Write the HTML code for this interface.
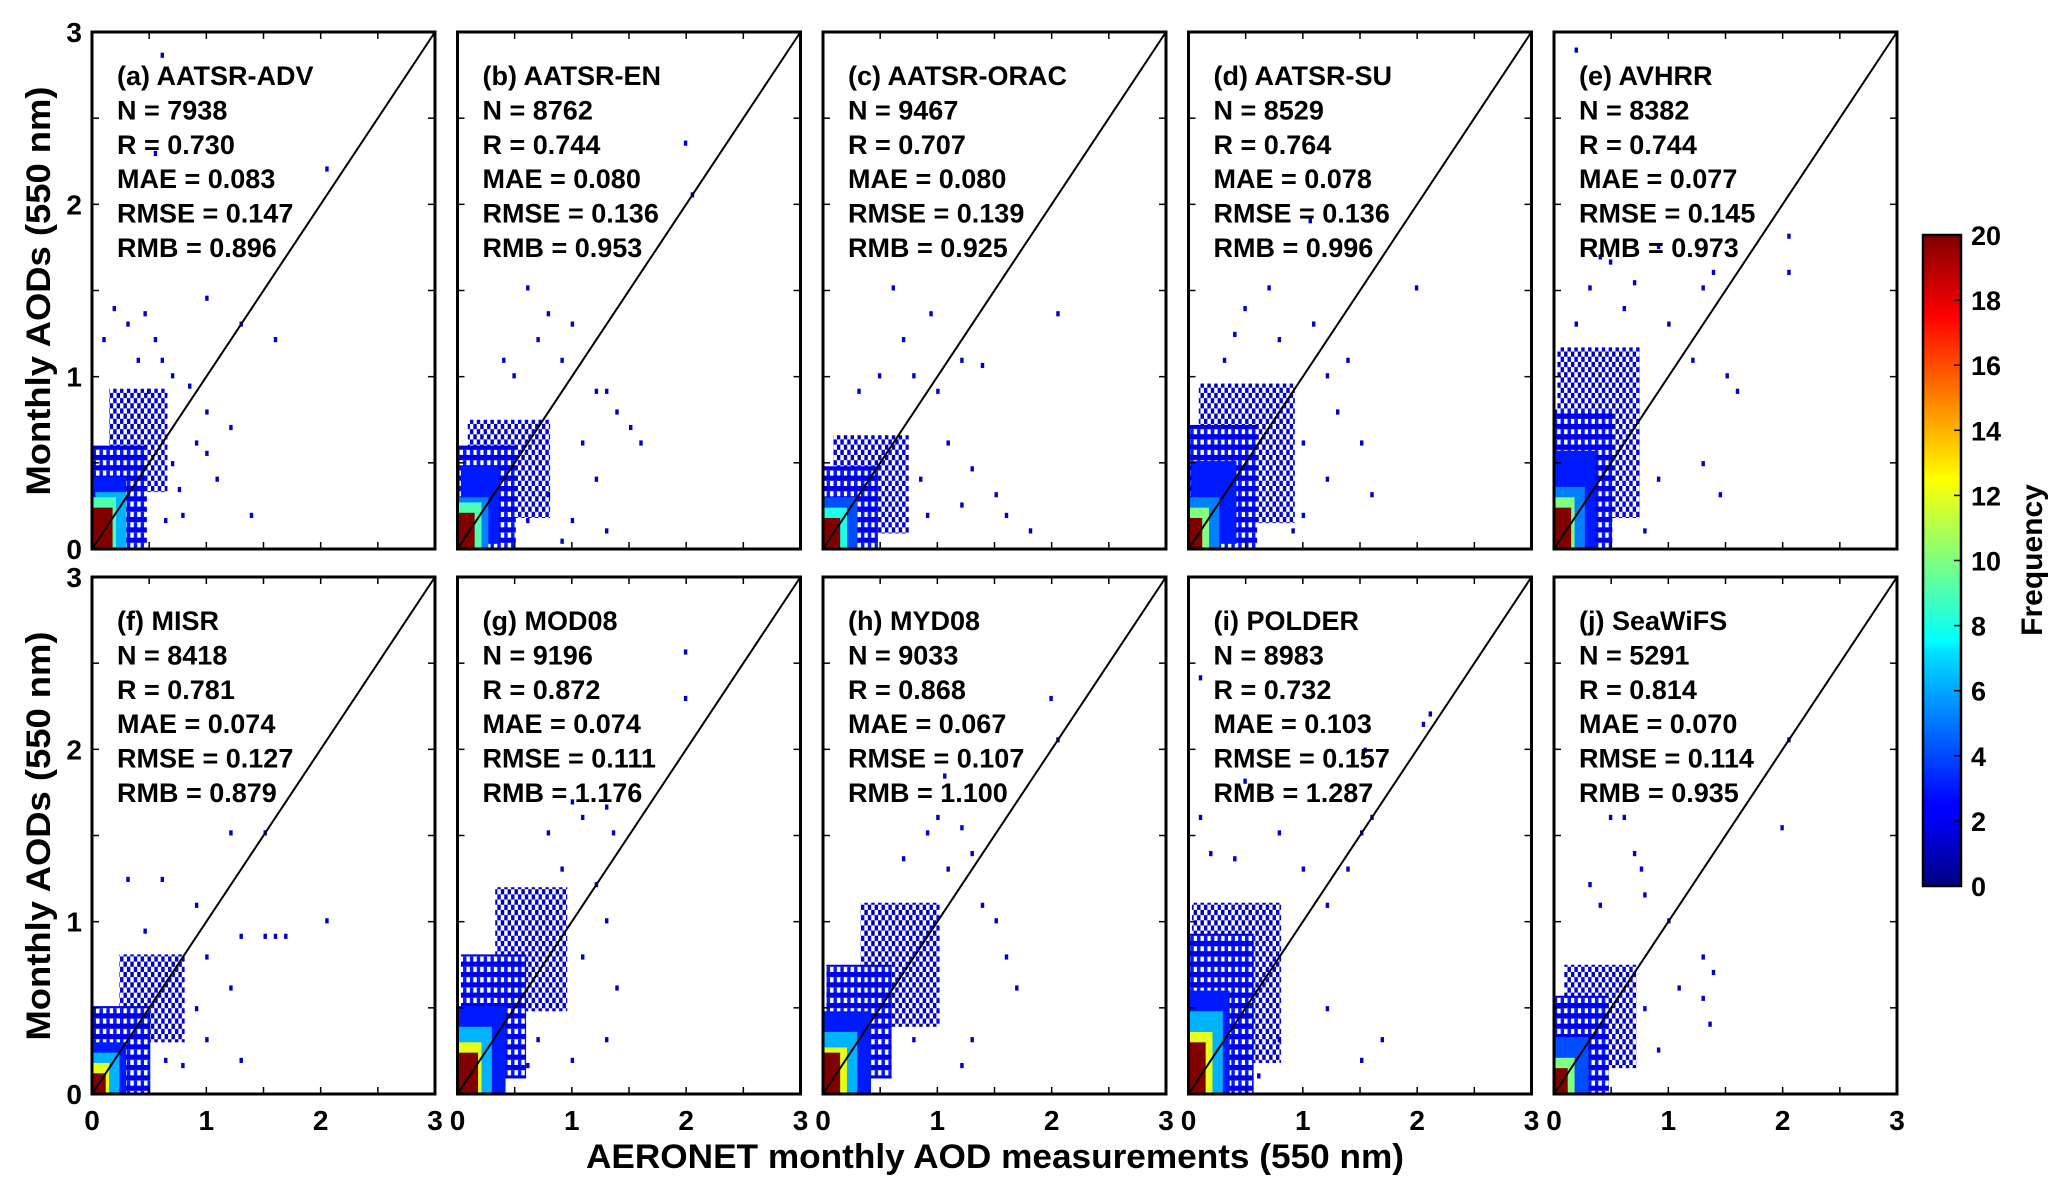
<!DOCTYPE html>
<html><head><meta charset="utf-8">
<style>
html,body{margin:0;padding:0;background:#fff;}
svg{display:block;font-family:"Liberation Sans",sans-serif;font-weight:bold;}
</style></head>
<body>
<svg id="chart" width="2067" height="1194" viewBox="0 0 2067 1194" xmlns="http://www.w3.org/2000/svg">
<defs>
<linearGradient id="jet" x1="0" y1="1" x2="0" y2="0">
<stop offset="0" stop-color="#00007f"/><stop offset="0.11" stop-color="#0000ff"/><stop offset="0.125" stop-color="#0000ff"/>
<stop offset="0.36" stop-color="#00e0ff"/><stop offset="0.375" stop-color="#00ffff"/>
<stop offset="0.5" stop-color="#7fff7f"/><stop offset="0.625" stop-color="#ffff00"/>
<stop offset="0.875" stop-color="#ff0000"/><stop offset="1" stop-color="#7f0000"/>
</linearGradient>
</defs>
<g id="panels"></g>
<g id="cbar"></g>
<text transform="translate(50,291) rotate(-90)" text-anchor="middle" font-size="34" textLength="409" lengthAdjust="spacingAndGlyphs">Monthly AODs (550 nm)</text>
<text transform="translate(50,836) rotate(-90)" text-anchor="middle" font-size="34" textLength="409" lengthAdjust="spacingAndGlyphs">Monthly AODs (550 nm)</text>
<text x="995" y="1168" text-anchor="middle" font-size="34" textLength="818" lengthAdjust="spacingAndGlyphs">AERONET monthly AOD measurements (550 nm)</text>
<text transform="translate(2042,560) rotate(-90)" text-anchor="middle" font-size="30">Frequency</text>
</svg>
<script>
const names = ["(a) AATSR-ADV","(b) AATSR-EN","(c) AATSR-ORAC","(d) AATSR-SU","(e) AVHRR","(f) MISR","(g) MOD08","(h) MYD08","(i) POLDER","(j) SeaWiFS"];
const statN = ["7938","8762","9467","8529","8382","8418","9196","9033","8983","5291"];
const statR = ["0.730","0.744","0.707","0.764","0.744","0.781","0.872","0.868","0.732","0.814"];
const statMAE = ["0.083","0.080","0.080","0.078","0.077","0.074","0.074","0.067","0.103","0.070"];
const statRMSE = ["0.147","0.136","0.139","0.136","0.145","0.127","0.111","0.107","0.157","0.114"];
const statRMB = ["0.896","0.953","0.925","0.996","0.973","0.879","1.176","1.100","1.287","0.935"];
const axisTicks = [0,1,2,3];
const cbarTicks = [0,2,4,6,8,10,12,14,16,18,20];

const boxesA=[[0.15,0.65,0.35,0.9,1],[0,0.45,0,0.6,2],[0,0.3,0,0.4,3],[0.03,0.27,0,0.32,6],[0,0.2,0,0.27,9],[0,0.17,0,0.23,20]];
const ptsA=[[0.1,1.2],[0.2,1.4],[0.3,1.3],[0.45,1.35],[0.55,1.2],[0.4,1.1],[0.6,1.1],[0.7,1.0],[0.5,0.9],[0.85,0.95],[1.0,0.8],[0.9,0.6],[1.2,0.7],[1.1,0.4],[1.4,0.2],[0.8,0.2],[0.75,0.35],[1.6,1.2],[0.55,2.3],[0.6,2.85],[1.0,1.45],[1.3,1.3],[2.05,2.2],[0.7,0.5],[0.65,0.15],[1.0,0.55]];
const boxesB=[[0.1,0.8,0.2,0.75,1],[0,0.5,0,0.6,2],[0.05,0.35,0.05,0.45,3],[0,0.25,0,0.3,5],[0,0.2,0,0.25,9],[0,0.14,0,0.2,20]];
const ptsB=[[1.2,0.9],[1.3,0.9],[1.1,0.6],[1.4,0.8],[0.7,1.2],[0.8,1.35],[0.5,1.0],[1.5,0.7],[1.6,0.6],[1.3,0.1],[1.0,0.15],[0.9,1.1],[1.0,1.3],[2.0,2.35],[2.05,2.05],[0.6,1.5],[1.2,0.4],[0.4,1.1],[0.8,0.3],[0.9,0.05],[0.6,0.15]];
const boxesC=[[0.1,0.75,0.1,0.65,1],[0,0.45,0,0.45,2],[0,0.3,0,0.3,4],[0,0.2,0,0.22,8],[0,0.15,0,0.18,20]];
const ptsC=[[0.6,1.5],[0.7,1.2],[0.5,1.0],[0.8,1.0],[1.0,0.9],[1.2,1.1],[1.1,0.6],[1.4,1.05],[1.3,0.45],[1.5,0.3],[1.6,0.2],[1.8,0.1],[2.05,1.35],[0.9,0.2],[1.2,0.25],[0.3,0.9],[0.95,1.35],[0.85,0.4]];
const boxesD=[[0.1,0.9,0.15,0.95,1],[0,0.6,0,0.7,2],[0.05,0.4,0.05,0.5,3],[0,0.25,0,0.3,5],[0,0.18,0,0.22,10],[0,0.12,0,0.16,20]];
const ptsD=[[0.5,1.4],[0.7,1.5],[0.8,1.2],[1.1,1.3],[1.2,1.0],[1.3,0.8],[1.4,1.1],[1.5,0.6],[1.2,0.4],[1.6,0.3],[2.0,1.5],[0.3,1.1],[1.0,0.2],[0.4,1.25],[1.05,1.9],[1.0,0.6],[0.9,0.1]];
const boxesE=[[0.05,0.75,0.2,1.15,1],[0,0.5,0,0.8,2],[0,0.35,0,0.55,3],[0,0.25,0,0.35,5],[0,0.18,0,0.28,10],[0,0.15,0,0.23,20]];
const ptsE=[[0.3,1.5],[0.4,1.7],[0.5,1.65],[0.6,1.4],[0.7,1.55],[1.0,1.3],[1.2,1.1],[1.3,1.5],[1.4,1.6],[1.5,1.0],[1.6,0.9],[1.45,0.3],[1.3,0.5],[2.05,1.8],[2.05,1.6],[0.9,1.75],[0.2,1.3],[0.2,2.9],[0.9,0.4],[0.8,0.1]];
const boxesF=[[0.25,0.8,0.3,0.8,1],[0,0.5,0,0.5,2],[0,0.3,0,0.3,3],[0,0.22,0,0.22,6],[0,0.15,0,0.16,12],[0,0.1,0,0.12,20]];
const ptsF=[[0.3,1.25],[0.6,1.25],[0.9,1.1],[1.2,1.5],[1.5,1.5],[1.0,0.8],[1.2,0.6],[1.3,0.9],[1.5,0.9],[1.6,0.9],[1.7,0.9],[2.05,1.0],[1.0,0.3],[1.3,0.2],[0.8,0.15],[0.45,0.95],[0.9,0.5],[0.65,0.2]];
const boxesG=[[0.35,0.95,0.5,1.2,1],[0.05,0.6,0.1,0.8,2],[0,0.4,0,0.5,3],[0,0.28,0,0.38,6],[0,0.2,0,0.28,12],[0,0.16,0,0.23,20]];
const ptsG=[[0.8,1.5],[1.0,1.7],[1.1,1.6],[1.3,1.65],[1.35,1.5],[0.9,1.3],[1.2,1.2],[1.3,1.0],[1.1,0.8],[1.4,0.6],[2.0,2.55],[2.0,2.3],[1.3,0.3],[1.0,0.2],[0.6,0.15],[0.7,0.3]];
const boxesH=[[0.35,1.0,0.4,1.1,1],[0.05,0.6,0.1,0.75,2],[0,0.4,0,0.45,3],[0,0.28,0,0.35,6],[0,0.2,0,0.26,12],[0,0.15,0,0.22,20]];
const ptsH=[[0.9,1.5],[1.0,1.6],[1.2,1.55],[1.3,1.4],[1.1,1.3],[1.4,1.1],[1.5,1.0],[1.6,0.8],[1.7,0.6],[1.3,0.3],[2.0,2.3],[2.05,2.05],[0.7,1.35],[1.2,0.15],[1.05,1.85],[0.8,0.3]];
const boxesI=[[0.05,0.8,0.2,1.1,1],[0,0.55,0,0.9,2],[0,0.35,0,0.6,3],[0,0.27,0,0.45,6],[0,0.2,0,0.36,12],[0,0.15,0,0.3,20]];
const ptsI=[[0.1,1.6],[0.2,1.4],[0.4,1.35],[0.8,1.5],[1.0,1.3],[1.2,1.1],[1.4,1.3],[1.5,1.5],[1.6,1.6],[1.2,0.5],[1.5,0.2],[1.7,0.3],[2.1,2.2],[2.05,2.15],[0.1,2.4],[0.5,1.8],[1.55,2.0],[0.8,0.3],[0.6,0.1]];
const boxesJ=[[0.1,0.7,0.15,0.75,1],[0,0.45,0,0.55,2],[0,0.28,0,0.32,4],[0,0.18,0,0.2,10],[0,0.12,0,0.15,20]];
const ptsJ=[[0.5,1.6],[0.6,1.6],[0.7,1.4],[0.8,1.15],[0.75,1.3],[0.3,1.2],[0.4,1.1],[1.0,1.0],[1.1,0.6],[1.3,0.8],[1.4,0.7],[1.3,0.55],[2.0,1.55],[2.05,2.05],[0.9,0.25],[1.35,0.4],[0.8,0.5]];

const allBoxes=[boxesA,boxesB,boxesC,boxesD,boxesE,boxesF,boxesG,boxesH,boxesI,boxesJ];
const allPts=[ptsA,ptsB,ptsC,ptsD,ptsE,ptsF,ptsG,ptsH,ptsI,ptsJ];

const NS="http://www.w3.org/2000/svg";
function mk(tag,attrs,parent){const e=document.createElementNS(NS,tag);for(const k in attrs)e.setAttribute(k,attrs[k]);parent.appendChild(e);return e;}
function jet(c){const v=Math.max(0,Math.min(1,c/20));const f=t=>Math.round(255*Math.max(0,Math.min(1,1.5-Math.abs(4*v-t))));return `rgb(${f(3)},${f(2)},${f(1)})`;}

const PW=343, PH=517, BIN=0.03;
const lefts=[92,457.5,823,1188.5,1554];
const tops=[32,577];
const panelsG=document.getElementById('panels');
const defs=document.querySelector('defs');
const bw=BIN/3*PW, bh=BIN/3*PH;
// speckle patterns for sparse (low count) regions
[1,2].forEach(c=>{
  const p=mk('pattern',{id:'sp'+c,patternUnits:'userSpaceOnUse',width:bw*2,height:bh*2},defs);
  mk('rect',{x:0,y:0,width:bw,height:bh,fill:jet(c)},p);
  mk('rect',{x:bw,y:bh,width:bw,height:bh,fill:jet(c+1)},p);
  if(c===2) mk('rect',{x:bw,y:0,width:bw,height:bh,fill:jet(2)},p);
});

for(let i=0;i<10;i++){
  const L=lefts[i%5], T=tops[Math.floor(i/5)];
  const sx=v=>L+v/3*PW, sy=v=>T+PH-v/3*PH;
  const g=mk('g',{},panelsG);
  
  
  mk('rect',{x:L,y:T,width:PW,height:PH,fill:'#fff'},g);
  const hg=mk('g',{},g);
  
  
  allBoxes[i].forEach(b=>{
    const x0=Math.floor(b[0]/BIN)*BIN, x1=Math.ceil(b[1]/BIN)*BIN, y0=Math.floor(b[2]/BIN)*BIN, y1=Math.ceil(b[3]/BIN)*BIN;
    const fill=b[4]<=2?'url(#sp'+b[4]+')':jet(b[4]);
    const r=mk('rect',{x:sx(x0),y:sy(y1),width:sx(x1)-sx(x0),height:sy(y0)-sy(y1),fill:fill},hg);
    
    
  });
  allPts[i].forEach(p=>{
    const x0=Math.floor(p[0]/BIN)*BIN, y0=Math.floor(p[1]/BIN)*BIN;
    const r=mk('rect',{x:sx(x0),y:sy(y0+BIN),width:sx(BIN)-sx(0),height:sy(0)-sy(BIN),fill:jet(1.5)},hg);
    
    
  });
  const dl=mk('line',{x1:sx(0),y1:sy(0),x2:sx(3),y2:sy(3),stroke:'#000','stroke-width':2},g);
  
  
  for(let t=0.5;t<3;t+=0.5){
    mk('line',{x1:sx(t),y1:T,x2:sx(t),y2:T+7,stroke:'#000','stroke-width':1.5},g);
    mk('line',{x1:sx(t),y1:T+PH,x2:sx(t),y2:T+PH-7,stroke:'#000','stroke-width':1.5},g);
    mk('line',{x1:L,y1:sy(t),x2:L+7,y2:sy(t),stroke:'#000','stroke-width':1.5},g);
    mk('line',{x1:L+PW,y1:sy(t),x2:L+PW-7,y2:sy(t),stroke:'#000','stroke-width':1.5},g);
  }
  const fr=mk('rect',{x:L,y:T,width:PW,height:PH,fill:'none',stroke:'#000','stroke-width':3},g);
  
  
  const lines=[names[i],'N = '+statN[i],'R = '+statR[i],'MAE = '+statMAE[i],'RMSE = '+statRMSE[i],'RMB = '+statRMB[i]];
  lines.forEach((s,k)=>{
    const t=mk('text',{x:L+25,y:T+53+k*34.4,'font-size':27},g);
    
    
    t.textContent=s;
  });
  if(i%5===0){
    axisTicks.forEach(v=>{
      const t=mk('text',{x:L-10,y:sy(v)+10,'font-size':28,'text-anchor':'end'},g);
      
      
      t.textContent=v;
    });
  }
  if(i>=5){
    axisTicks.forEach(v=>{
      const t=mk('text',{x:sx(v),y:T+PH+36,'font-size':28,'text-anchor':'middle'},g);
      
      
      t.textContent=v;
    });
  }
}

const cb=document.getElementById('cbar');
const CX=1923, CW=38, CT=235, CB=886;
const cy=v=>CB-v/20*(CB-CT);
mk('rect',{x:CX,y:CT,width:CW,height:CB-CT,fill:'url(#jet)',stroke:'#000','stroke-width':2.5},cb);
cbarTicks.forEach(v=>{
  mk('line',{x1:CX+CW-7,y1:cy(v),x2:CX+CW,y2:cy(v),stroke:'#000','stroke-width':1.5},cb);
  const t=mk('text',{x:CX+CW+10,y:cy(v)+10,'font-size':27},cb);
  
  
  t.textContent=v;
});
</script>
</body></html>
